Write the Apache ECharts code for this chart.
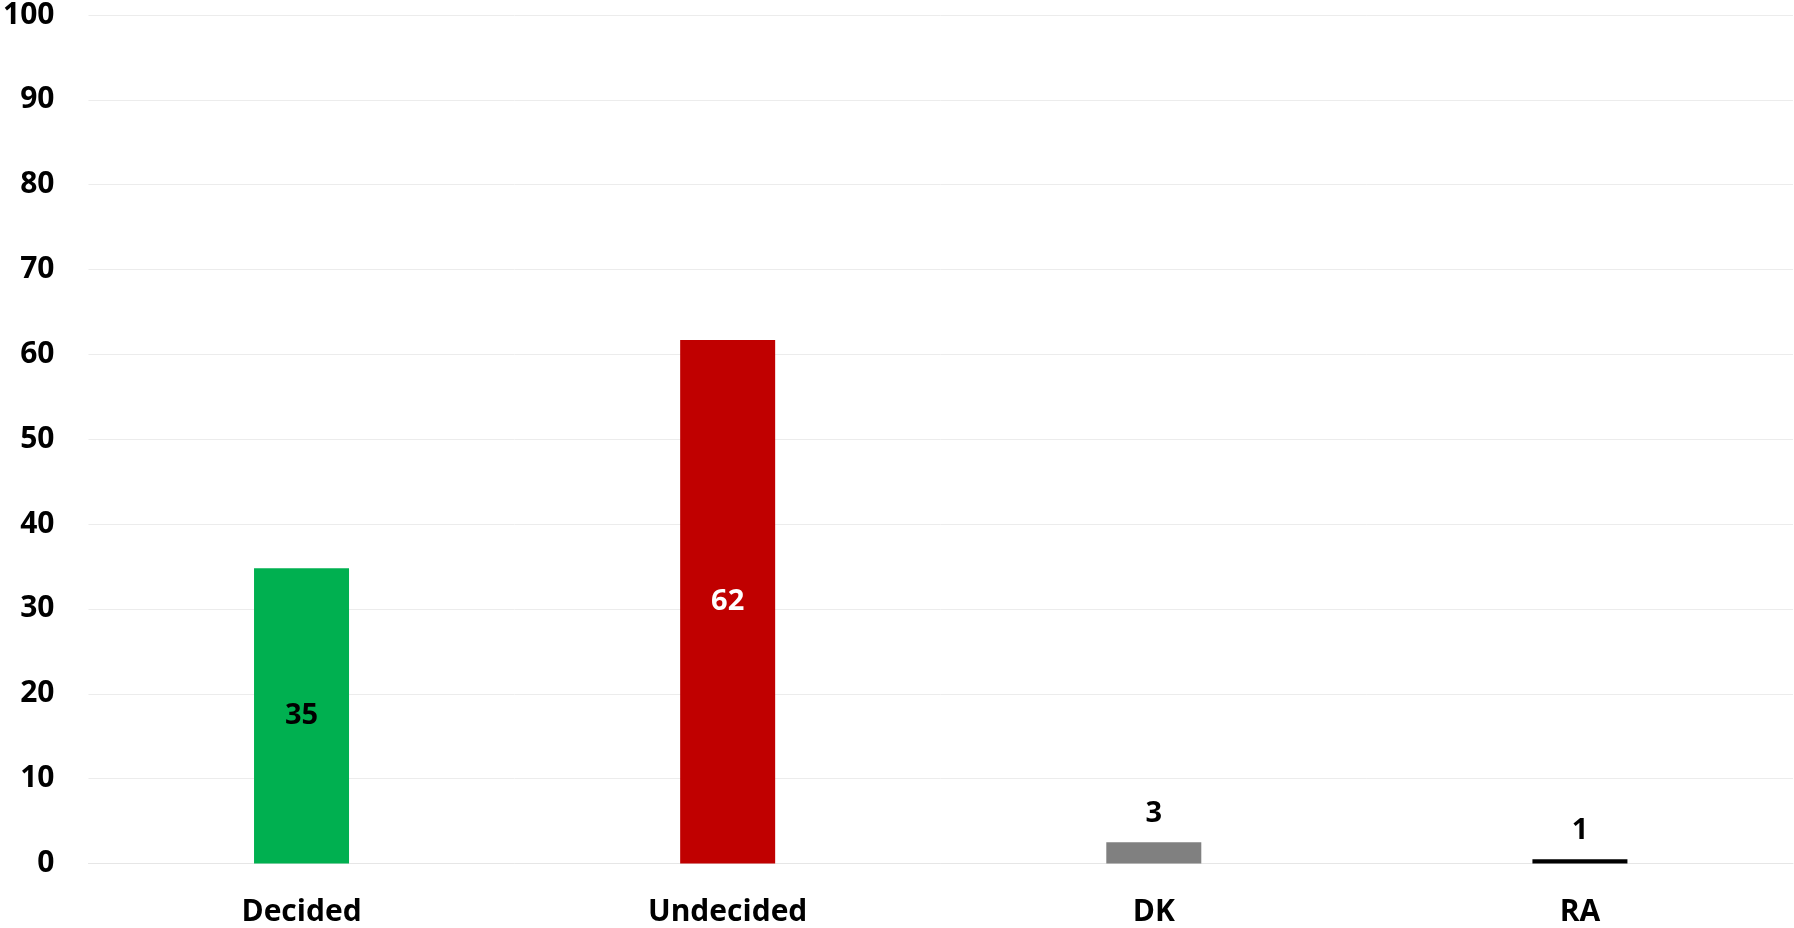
<!DOCTYPE html>
<html>
<head>
<meta charset="utf-8">
<script src="https://cdn.jsdelivr.net/npm/echarts@6/dist/echarts.min.js"></script>
<style>
html,body{margin:0;padding:0;background:#fff;}
#chart{width:1794px;height:928px;}
</style>
</head>
<body>
<div id="chart"></div>
<script>
const categories = ['Decided', 'Undecided', 'DK', 'RA'];
const values = [34.8, 61.7, 2.5, 0.5];
const barColors = ['#00B050', '#C00000', '#808080', '#000000'];
const labelColors = ['#000000', '#FFFFFF', '#000000', '#000000'];
const labelInside = [true, true, false, false];

const FONT = '"Open Sans", "Liberation Sans", sans-serif';

const chart = echarts.init(document.getElementById('chart'), null, {renderer: 'canvas'});
chart.setOption({
  animation: false,
  backgroundColor: '#ffffff',
  grid: {left: 87, right: 1, top: 14, bottom: 64.5, containLabel: false},
  xAxis: {
    type: 'category',
    data: categories,
    axisLine: {show: true, lineStyle: {color: '#E6E6E6', width: 1}},
    axisTick: {show: false},
    axisLabel: {color: '#000', fontFamily: FONT, fontWeight: 'bold', fontSize: 30, margin: 34}
  },
  yAxis: {
    type: 'value',
    min: 0, max: 100, interval: 10,
    axisLine: {show: false},
    axisTick: {show: false},
    splitLine: {lineStyle: {color: '#ECECEC', width: 1}},
    axisLabel: {color: '#000', fontFamily: FONT, fontWeight: 'bold', fontSize: 30, margin: 34}
  },
  series: [{
    type: 'bar',
    barWidth: 95,
    data: values.map((v, i) => ({
      value: v,
      itemStyle: {color: barColors[i]},
      label: {
        show: true,
        position: labelInside[i] ? 'inside' : 'top',
        distance: 14,
        color: labelColors[i],
        fontFamily: FONT,
        fontWeight: 'bold',
        fontSize: 29,
        formatter: p => String(Math.round(p.value))
      }
    }))
  }]
});
</script>
</body>
</html>
